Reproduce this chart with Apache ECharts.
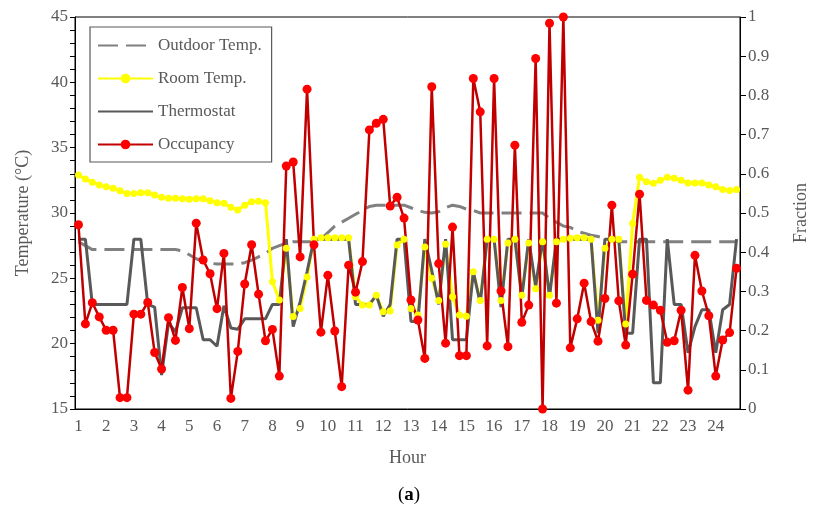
<!DOCTYPE html>
<html>
<head>
<meta charset="utf-8">
<title>Temperatures and occupancy by hour</title>
<script src="https://cdn.jsdelivr.net/npm/echarts@6.0.0/dist/echarts.min.js"></script>
<style>
  html, body { margin: 0; padding: 0; background: #fff; }
  #chart { width: 818px; height: 514px; }
</style>
</head>
<body>
<div id="chart"></div>
<script>
// hour labels on the x axis, four 15-minute samples per hour
var hourTicks = ['1', '2', '3', '4', '5', '6', '7', '8', '9', '10', '11', '12',
  '13', '14', '15', '16', '17', '18', '19', '20', '21', '22', '23', '24'];
var quarters = ['00', '15', '30', '45'];

var tempTicks = [15, 20, 25, 30, 35, 40, 45];
var fractionTicks = [0, 0.1, 0.2, 0.3, 0.4, 0.5, 0.6, 0.7, 0.8, 0.9, 1];

var outdoorTemp = [
  27.8, 27.5, 27.2, 27.2, 27.2, 27.2, 27.2, 27.2, 27.2, 27.2,
  27.2, 27.2, 27.2, 27.2, 27.2, 27.1, 26.8, 26.5, 26.3, 26.15,
  26.1, 26.1, 26.1, 26.1, 26.2, 26.4, 26.65, 26.9, 27.3, 27.5,
  27.7, 27.8, 27.8, 27.8, 27.8, 28.0, 28.5, 29.0, 29.3, 29.6,
  29.9, 30.2, 30.5, 30.6, 30.6, 30.6, 30.6, 30.6, 30.4, 30.2,
  30.05, 30.0, 30.1, 30.4, 30.6, 30.5, 30.3, 30.2, 30.0, 30.0,
  30.0, 30.0, 30.0, 30.0, 30.0, 30.0, 30.0, 30.0, 29.6, 29.3,
  29.0, 28.9, 28.6, 28.45, 28.3, 28.2, 28.06, 27.95, 27.8, 27.8,
  27.8, 27.8, 27.8, 27.8, 27.8, 27.8, 27.8, 27.8, 27.8, 27.8,
  27.8, 27.8, 27.8, 27.8, 27.8, 27.8
];

var roomTemp = [
  32.9, 32.6, 32.35, 32.15, 32.0, 31.9, 31.7, 31.5, 31.5, 31.55,
  31.55, 31.38, 31.2, 31.12, 31.12, 31.1, 31.05, 31.1, 31.1, 30.94,
  30.79, 30.74, 30.44, 30.23, 30.6, 30.87, 30.9, 30.79, 24.74, 23.34,
  27.3, 22.07, 22.7, 25.1, 28.0, 28.1, 28.1, 28.1, 28.1, 28.1,
  23.6, 22.96, 22.96, 23.7, 22.45, 22.5, 27.55, 28.0, 22.7, 22.2,
  27.4, 25.0, 23.3, 27.6, 23.6, 22.2, 22.1, 25.5, 23.3, 28.0,
  28.0, 23.3, 27.7, 28.0, 23.7, 27.7, 24.2, 27.8, 23.7, 27.8,
  28.0, 28.06, 28.1, 28.1, 28.0, 21.8, 27.3, 28.0, 28.0, 21.5,
  29.2, 32.73, 32.4, 32.27, 32.5, 32.73, 32.65, 32.5, 32.3, 32.3,
  32.3, 32.14, 32.0, 31.8, 31.72, 31.8
];

var thermostat = [
  28, 28, 23, 23, 23, 23, 23, 23, 28, 28,
  23, 22.8, 17.6, 21.6, 20.9, 22.75, 22.75, 22.75, 20.3, 20.3,
  19.8, 22.9, 21.2, 21.1, 21.9, 21.9, 21.9, 21.9, 23, 23,
  28, 21.3, 23.2, 25.5, 28, 28, 28, 28, 28, 28,
  23, 23, 23, 23.7, 22.1, 23, 28, 28, 21.7, 21.7,
  28, 25.6, 23, 28, 20.3, 20.3, 20.3, 25.5, 23.1, 28,
  28, 22.8, 28, 28, 23.5, 28, 24.4, 28, 23.6, 28,
  28, 28, 28, 28, 28, 20.8, 28, 28, 28, 20.8,
  20.8, 28, 28, 17.0, 17.0, 28, 23, 23, 19.3, 21.3,
  22.6, 22.6, 19.3, 22.6, 23, 28
];

var occupancy = [
  0.470, 0.217, 0.271, 0.235, 0.201, 0.201, 0.029, 0.029, 0.242, 0.242,
  0.272, 0.144, 0.102, 0.233, 0.175, 0.310, 0.205, 0.474, 0.380, 0.345,
  0.256, 0.397, 0.027, 0.147, 0.319, 0.419, 0.293, 0.174, 0.203, 0.084,
  0.620, 0.630, 0.388, 0.816, 0.419, 0.196, 0.341, 0.199, 0.057, 0.367,
  0.298, 0.376, 0.712, 0.729, 0.739, 0.518, 0.540, 0.487, 0.278, 0.227,
  0.129, 0.822, 0.371, 0.168, 0.464, 0.136, 0.136, 0.843, 0.758, 0.161,
  0.843, 0.301, 0.159, 0.673, 0.221, 0.265, 0.894, 0.000, 0.984, 0.270,
  1.000, 0.156, 0.230, 0.321, 0.223, 0.173, 0.282, 0.520, 0.276, 0.163,
  0.344, 0.548, 0.277, 0.265, 0.252, 0.170, 0.174, 0.252, 0.048, 0.392,
  0.301, 0.238, 0.084, 0.176, 0.195, 0.359
];

var slots = [];
hourTicks.forEach(function (h) {
  quarters.forEach(function (m) {
    slots.push(h + ':' + m);
  });
});

var serif = 'Liberation Serif';
var grey = '#595959';
var labelStyle = { fontFamily: serif, fontSize: 17, color: grey };

var chart = echarts.init(document.getElementById('chart'));

var option = {
  animation: false,
  title: {
    text: '({b|a})',
    left: 'center',
    top: 481,
    textStyle: {
      fontFamily: serif, fontSize: 19, fontWeight: 'normal', color: '#000',
      rich: { b: { fontFamily: serif, fontSize: 19, fontWeight: 'bold', color: '#000' } }
    }
  },
  grid: {
    left: 75, right: 73, top: 17, bottom: 105,
    show: true, borderColor: '#000', borderWidth: 1, backgroundColor: 'transparent'
  },
  legend: {
    orient: 'vertical',
    left: 90,
    top: 27,
    backgroundColor: '#fff',
    borderColor: grey,
    borderWidth: 1.2,
    padding: [10, 10, 9, 7],
    itemGap: 16,
    itemWidth: 55,
    itemHeight: 12,
    itemTextGap: 5,
    textStyle: labelStyle,
    data: [
      // lines without markers: hide the legend dot
      { name: 'Outdoor Temp.', itemStyle: { opacity: 0 } },
      { name: 'Room Temp.' },
      { name: 'Thermostat', itemStyle: { opacity: 0 } },
      { name: 'Occupancy' }
    ]
  },
  xAxis: {
    type: 'category',
    data: slots,
    boundaryGap: true,
    name: 'Hour',
    nameLocation: 'middle',
    nameGap: 40,
    nameTextStyle: { fontFamily: serif, fontSize: 18, color: grey },
    axisLine: { lineStyle: { color: '#000', width: 1 } },
    axisTick: { interval: 3, length: 6, lineStyle: { color: '#000' } },
    axisLabel: {
      interval: 3,
      margin: 9,
      fontFamily: serif, fontSize: 17, color: grey,
      formatter: function (v) { return v.split(':')[0]; }
    },
    splitLine: { show: false }
  },
  yAxis: [
    {
      type: 'value',
      min: tempTicks[0],
      max: tempTicks[tempTicks.length - 1],
      interval: tempTicks[1] - tempTicks[0],
      name: 'Temperature (°C)',
      nameLocation: 'middle',
      nameGap: 43,
      nameRotate: 90,
      nameTextStyle: { fontFamily: serif, fontSize: 18, color: grey },
      axisLine: { show: true, lineStyle: { color: '#000', width: 1 } },
      axisTick: { show: true, length: 5, lineStyle: { color: '#000' } },
      minorTick: { show: true, splitNumber: 5, length: 5, lineStyle: { color: '#000' } },
      axisLabel: { margin: 7, fontFamily: serif, fontSize: 17, color: grey },
      splitLine: { show: false }
    },
    {
      type: 'value',
      min: fractionTicks[0],
      max: fractionTicks[fractionTicks.length - 1],
      interval: 0.1,
      name: 'Fraction',
      nameLocation: 'middle',
      nameGap: 52,
      nameRotate: 90,
      nameTextStyle: { fontFamily: serif, fontSize: 18, color: grey },
      axisLine: { show: true, lineStyle: { color: '#000', width: 1 } },
      axisTick: { show: true, length: 6, lineStyle: { color: '#000' } },
      axisLabel: { margin: 8, fontFamily: serif, fontSize: 17, color: grey },
      splitLine: { show: false }
    }
  ],
  series: [
    {
      name: 'Outdoor Temp.',
      type: 'line',
      data: outdoorTemp,
      symbol: 'none',
      itemStyle: { color: '#808080' },
      lineStyle: { color: '#808080', width: 3, type: [20, 8] }
    },
    {
      name: 'Room Temp.',
      type: 'line',
      data: roomTemp,
      symbol: 'circle',
      symbolSize: 7,
      showAllSymbol: true,
      itemStyle: { color: '#FFFF00' },
      lineStyle: { color: '#FFFF00', width: 3 }
    },
    {
      name: 'Thermostat',
      type: 'line',
      data: thermostat,
      symbol: 'none',
      itemStyle: { color: grey },
      lineStyle: { color: grey, width: 3 }
    },
    {
      name: 'Occupancy',
      type: 'line',
      yAxisIndex: 1,
      data: occupancy,
      symbol: 'circle',
      symbolSize: 9,
      showAllSymbol: true,
      itemStyle: { color: '#FF0000' },
      lineStyle: { color: '#C00000', width: 2.5 }
    }
  ]
};

chart.setOption(option);
</script>
</body>
</html>
